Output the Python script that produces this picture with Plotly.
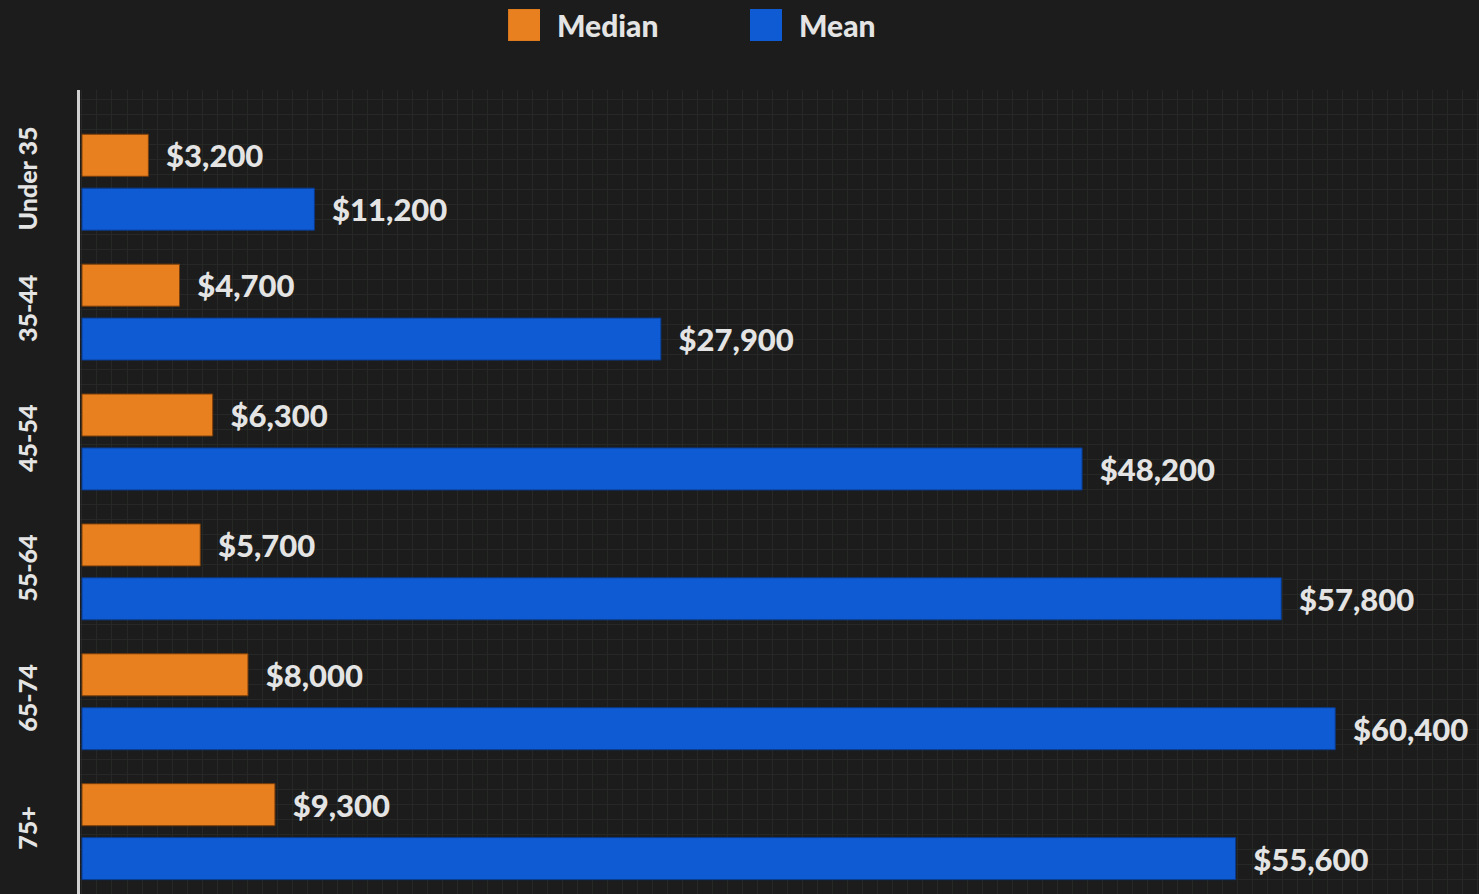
import plotly.graph_objects as go

categories = ["Under 35", "35-44", "45-54", "55-64", "65-74", "75+"]
median_vals = [3200, 4700, 6300, 5700, 8000, 9300]
mean_vals = [11200, 27900, 48200, 57800, 60400, 55600]
series_names = ["Median", "Mean"]

ORANGE = "#e8801f"
BLUE = "#0f5bd4"
TXT = "#e4e4e4"
BG = "#1b1c1b"
GRID = "#262826"
FONT = "Lato"

def fmt(v):
    return "  ${:,}".format(v)

fig = go.Figure()
fig.add_trace(go.Bar(
    y=categories, x=median_vals, orientation="h", name=series_names[0],
    marker=dict(color=ORANGE, line=dict(color="#7a3e0a", width=1)),
    text=[fmt(v) for v in median_vals], textposition="outside",
    textfont=dict(family=FONT, size=31, color=TXT, weight=900), cliponaxis=False,
    showlegend=False,
))
fig.add_trace(go.Bar(
    y=categories, x=mean_vals, orientation="h", name=series_names[1],
    marker=dict(color=BLUE, line=dict(color="#0a3a8a", width=1)),
    text=[fmt(v) for v in mean_vals], textposition="outside",
    textfont=dict(family=FONT, size=31, color=TXT, weight=900), cliponaxis=False,
    showlegend=False,
))
# invisible trace for a fine background grid
fig.add_trace(go.Scatter(x=[0], y=[0], xaxis="x2", yaxis="y2", mode="markers",
                         marker=dict(opacity=0), showlegend=False, hoverinfo="skip"))

# legend drawn as swatches + labels (large swatches like the original)
legend_items = [(series_names[0], ORANGE, 0.306, 0.3288), (series_names[1], BLUE, 0.4789, 0.5018)]
for name, col, x0, x1 in legend_items:
    fig.add_shape(type="rect", xref="paper", yref="paper", x0=x0, x1=x1,
                  y0=1.061, y1=1.1007, fillcolor=col, line=dict(width=0))
    fig.add_annotation(xref="paper", yref="paper", x=x1 + 0.011, y=1.081,
                       xanchor="left", yanchor="middle", text=name, showarrow=False,
                       font=dict(family=FONT, size=30, color=TXT, weight=900))

fig.update_layout(
    width=1479, height=894,
    paper_bgcolor=BG, plot_bgcolor=BG,
    margin=dict(l=80, r=0, t=90, b=0),
    barmode="group", bargap=0.17, bargroupgap=0.22,
    font=dict(family=FONT, color=TXT),
    showlegend=False,
    xaxis=dict(range=[-96, 67330], showticklabels=False, zeroline=False,
               showgrid=True, gridcolor=GRID, dtick=723, tick0=0, ticks="",
               showline=False),
    yaxis=dict(categoryorder="array", categoryarray=categories,
               range=[5.48, -0.71], tickangle=-90, showgrid=False,
               tickfont=dict(family=FONT, size=25, color=TXT, weight=900), ticks="",
               showline=True, linecolor="#d0d0d0", linewidth=3, ticklabelstandoff=30),
    xaxis2=dict(overlaying="x", range=[0, 1399], visible=False),
    yaxis2=dict(overlaying="y", range=[0, 804], showgrid=True, gridcolor=GRID,
                dtick=15, showticklabels=False, zeroline=False, ticks=""),
)
fig.write_html("out.html", config={"displayModeBar": False},
               post_script="document.body.style.margin='0';document.body.style.background='#1b1c1b';")
